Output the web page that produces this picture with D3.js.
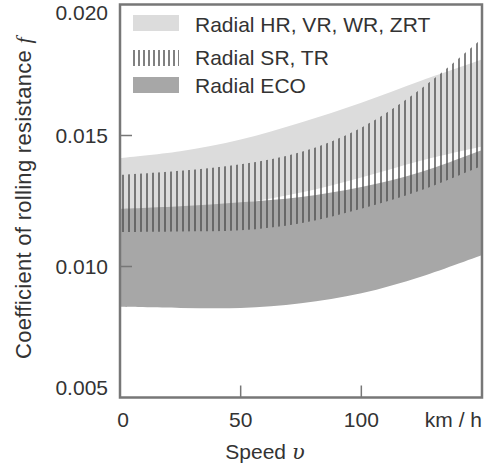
<!DOCTYPE html>
<html>
<head>
<meta charset="utf-8">
<script src="https://cdn.jsdelivr.net/npm/d3@7"></script>
<style>
  html, body { margin: 0; padding: 0; background: #fff; }
  svg { display: block; font-family: "Liberation Sans", Arial, sans-serif; }
</style>
</head>
<body>
<svg id="chart" width="487" height="470"></svg>
<script>
// Speed samples (km/h)
const speeds = [0, 25, 50, 75, 100, 125, 150];

// Radial HR, VR, WR, ZRT – band limits of f
const hrLow  = [0.01190, 0.01210, 0.01240, 0.01282, 0.01340, 0.01405, 0.01458];
const hrHigh = [0.01414, 0.01440, 0.01485, 0.01550, 0.01625, 0.01710, 0.01790];

// Radial SR, TR – band limits of f
const srLow  = [0.01132, 0.01134, 0.01138, 0.01165, 0.01220, 0.01292, 0.01385];
const srHigh = [0.01349, 0.01365, 0.01390, 0.01437, 0.01530, 0.01680, 0.01870];

// Radial ECO – band limits of f
const ecoLow  = [0.00846, 0.00842, 0.00842, 0.00860, 0.00898, 0.00962, 0.01044];
const ecoHigh = [0.01220, 0.01230, 0.01245, 0.01265, 0.01303, 0.01362, 0.01445];

const yTicks = [0.005, 0.010, 0.015, 0.020];
const xTicks = [0, 50, 100];
const xUnit = "km / h";
const legendLabels = ["Radial HR, VR, WR, ZRT", "Radial SR, TR", "Radial ECO"];

(function () {
const svg = d3.select("#chart");
const pLeft = 120, pRight = 482, pTop = 4.5, pBottom = 397.5;

const x = d3.scaleLinear().domain([0, 150]).range([pLeft, pRight]);
const y = d3.scaleLinear().domain([0.005, 0.020]).range([pBottom, pTop]);

const frameColor = "#777";
const textColor = "#333";

const defs = svg.append("defs");
defs.append("clipPath").attr("id", "plotClip")
  .append("rect").attr("x", pLeft).attr("y", pTop)
  .attr("width", pRight - pLeft).attr("height", pBottom - pTop);

// vertical hatching used for the SR, TR band
function hatch(id, step, offset) {
  const p = defs.append("pattern").attr("id", id)
    .attr("patternUnits", "userSpaceOnUse")
    .attr("x", offset).attr("y", 0)
    .attr("width", step).attr("height", 10);
  p.append("rect").attr("x", 0).attr("y", 0).attr("width", 2).attr("height", 10)
    .attr("fill", "rgb(80,80,80)").attr("fill-opacity", 0.72);
}
hatch("hatchPlot", 6, pLeft + 2);
hatch("hatchLegend", 5, 133);

function band(lo, hi) {
  const rows = speeds.map((v, i) => ({ v, lo: lo[i], hi: hi[i] }));
  return d3.area()
    .x(d => x(d.v))
    .y0(d => y(d.lo))
    .y1(d => y(d.hi))
    .curve(d3.curveCatmullRom.alpha(0.5))(rows);
}

const plot = svg.append("g").attr("clip-path", "url(#plotClip)");
plot.append("path").attr("d", band(hrLow, hrHigh)).attr("fill", "#dcdcdc");
plot.append("path").attr("d", band(ecoLow, ecoHigh)).attr("fill", "#a7a7a7");
plot.append("path").attr("d", band(srLow, srHigh)).attr("fill", "url(#hatchPlot)");

// inward ticks
const tickLen = 12;
svg.append("g").selectAll("line").data(yTicks.filter(t => t > 0.005 && t < 0.020))
  .join("line")
  .attr("x1", pLeft).attr("x2", pLeft + tickLen)
  .attr("y1", d => y(d)).attr("y2", d => y(d))
  .attr("stroke", frameColor).attr("stroke-width", 1.5);
svg.append("g").selectAll("line").data(xTicks.filter(t => t > 0))
  .join("line")
  .attr("x1", d => x(d)).attr("x2", d => x(d))
  .attr("y1", pBottom).attr("y2", pBottom - tickLen)
  .attr("stroke", frameColor).attr("stroke-width", 1.5);

// frame
svg.append("rect")
  .attr("x", pLeft).attr("y", pTop)
  .attr("width", pRight - pLeft).attr("height", pBottom - pTop)
  .attr("fill", "none").attr("stroke", frameColor).attr("stroke-width", 2.5);

// y tick labels (end labels nudged inside the frame height)
svg.append("g").selectAll("text").data(yTicks).join("text")
  .attr("x", 108)
  .attr("y", d => y(d))
  .attr("dy", d => d === 0.020 ? 15.5 : (d === 0.005 ? -2.5 : 7.5))
  .attr("text-anchor", "end")
  .attr("font-size", 21)
  .attr("fill", textColor)
  .text(d => d3.format(".3f")(d));

// x tick labels
svg.append("g").selectAll("text").data(xTicks).join("text")
  .attr("x", d => x(d) + (d === 0 ? 3 : 0))
  .attr("y", 427)
  .attr("text-anchor", "middle")
  .attr("font-size", 21)
  .attr("fill", textColor)
  .text(d => d);
svg.append("text")
  .attr("x", pRight).attr("y", 427)
  .attr("text-anchor", "end")
  .attr("font-size", 21)
  .attr("fill", textColor)
  .text(xUnit);

// axis titles
const xTitle = svg.append("text")
  .attr("x", 265).attr("y", 459)
  .attr("text-anchor", "middle")
  .attr("font-size", 21)
  .attr("fill", textColor);
xTitle.append("tspan").text("Speed ");
xTitle.append("tspan")
  .attr("font-family", "'DejaVu Serif', 'Liberation Serif', serif")
  .attr("font-style", "italic")
  .text("υ");

const yTitle = svg.append("text")
  .attr("transform", "translate(31,198) rotate(-90)")
  .attr("text-anchor", "middle")
  .attr("font-size", 22)
  .attr("letter-spacing", 0.3)
  .attr("fill", textColor);
yTitle.append("tspan").text("Coefficient of rolling resistance ");
yTitle.append("tspan")
  .attr("font-family", "'Liberation Serif', 'DejaVu Serif', serif")
  .attr("font-style", "italic")
  .text("f");

// legend
const legend = svg.append("g");
const swatchFills = ["#dcdcdc", "url(#hatchLegend)", "#a7a7a7"];
const swatchTops = [15, 50, 77];
const baselines = [32, 65, 93];
legendLabels.forEach((lab, i) => {
  legend.append("rect")
    .attr("x", 133).attr("y", swatchTops[i])
    .attr("width", 46).attr("height", 16)
    .attr("fill", swatchFills[i]);
  legend.append("text")
    .attr("x", 195).attr("y", baselines[i])
    .attr("font-size", 21)
    .attr("fill", textColor)
    .text(lab);
});
})();
</script>
</body>
</html>
